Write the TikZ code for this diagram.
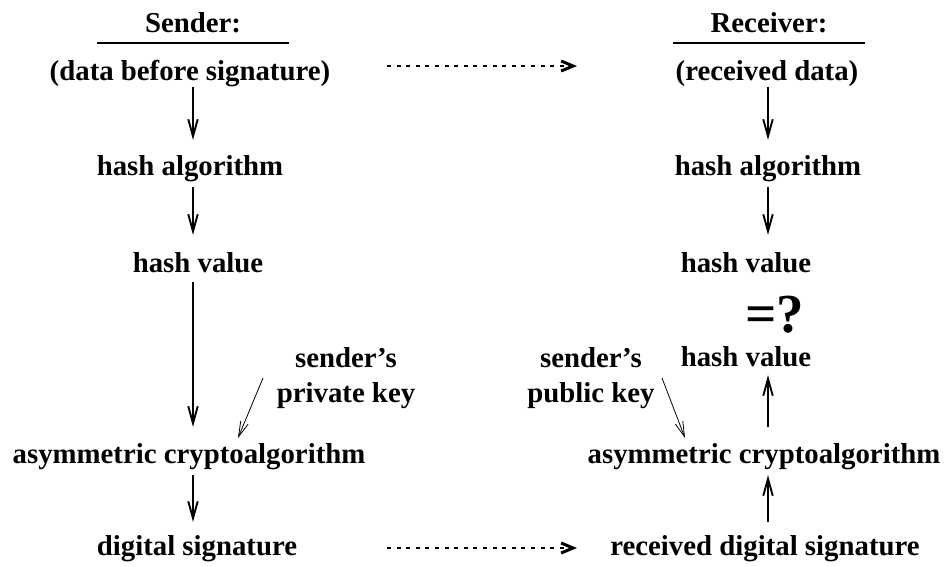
\documentclass[tikz,border=0pt]{standalone}
\usepackage{fontspec}
\setmainfont{Liberation Serif}
\usetikzlibrary{arrows.meta}
\begin{document}
\begin{tikzpicture}[x=1pt,y=-1pt,
  lbl/.style={font=\fontsize{28.8}{30}\selectfont\bfseries, inner sep=0pt, anchor=base, text height=20pt, text depth=7pt},
  two/.style={font=\fontsize{28.8}{35}\selectfont\bfseries, inner sep=0pt, align=center},
  big/.style={font=\fontsize{55}{58}\selectfont\bfseries, inner sep=0pt, anchor=base},
  arr/.style={line width=1.9pt, -{Straight Barb[length=17pt,width=9.5pt,line width=1.9pt]}},
  keyarr/.style={line width=0.8pt, -{Straight Barb[length=15pt,width=8pt,line width=0.8pt]}},
  dotarr/.style={line width=2.2pt, dash pattern=on 4pt off 5.6pt, -{Straight Barb[length=12pt,width=10pt,line width=3pt]}},
  rule/.style={line width=2pt}]
\useasboundingbox (0,0) rectangle (945,566);
% columns
\coordinate (cL) at (193,0);
\coordinate (cR) at (768,0);
% sender
\node[lbl] (snd) at (193,32) {Sender:};
\node[lbl] (data) at (190,80) {(data before signature)};
\node[lbl] (halg) at (190,175) {hash algorithm};
\node[lbl] (hv) at (198,272) {hash value};
\node[two] (priv) at (346,378) {sender's\\private key};
\node[lbl] (asym) at (189,463) {asymmetric cryptoalgorithm};
\node[lbl] (dig) at (197,555) {digital signature};
% receiver
\node[lbl] (rcv) at (769,32) {Receiver:};
\node[lbl] (rdata) at (767,80) {(received data)};
\node[lbl] (rhalg) at (768,175) {hash algorithm};
\node[lbl] (rhv) at (746,272) {hash value};
\node[big] (eq) at (775,332) {=?};
\node[lbl] (rhv2) at (746,366) {hash value};
\node[two] (pub) at (591,378) {sender's\\public key};
\node[lbl] (rasym) at (764,463) {asymmetric cryptoalgorithm};
\node[lbl] (rdig) at (765,555) {received digital signature};
% header rules
\coordinate (sl) at (97,43); \coordinate (sr) at (289,43);
\coordinate (rl) at (673,43); \coordinate (rr) at (865,43);
\draw[rule] (sl) -- (sr);
\draw[rule] (rl) -- (rr);
% sender arrows
\draw[arr, shorten <=0pt, shorten >=15pt] (data.south -| cL) -- (halg.north -| cL);
\draw[arr, shorten <=5pt, shorten >=17pt] (halg.south -| cL) -- (hv.north -| cL);
\draw[arr, shorten <=3pt, shorten >=16pt] (hv.south -| cL) -- (asym.north -| cL);
\draw[arr, shorten <=5pt, shorten >=13pt] (asym.south -| cL) -- (dig.north -| cL);
% receiver arrows
\draw[arr, shorten <=0pt, shorten >=15pt] (rdata.south -| cR) -- (rhalg.north -| cR);
\draw[arr, shorten <=5pt, shorten >=17pt] (rhalg.south -| cR) -- (rhv.north -| cR);
\draw[arr, shorten <=16pt, shorten >=2pt] (rasym.north -| cR) -- (rhv2.south -| cR);
\draw[arr, shorten <=13pt, shorten >=5pt] (rdig.north -| cR) -- (rasym.south -| cR);
% key arrows
\coordinate (pk1) at (263,378); \coordinate (pk2) at (238,438);
\coordinate (uk1) at (662,378); \coordinate (uk2) at (685,438);
\draw[keyarr] (pk1) -- (pk2);
\draw[keyarr] (uk1) -- (uk2);
% transfer arrows
\coordinate (t1) at (387,66); \coordinate (t2) at (577,66);
\coordinate (b1) at (387,548); \coordinate (b2) at (577,548);
\draw[dotarr] (t1) -- (t2);
\draw[dotarr] (b1) -- (b2);
\end{tikzpicture}
\end{document}
